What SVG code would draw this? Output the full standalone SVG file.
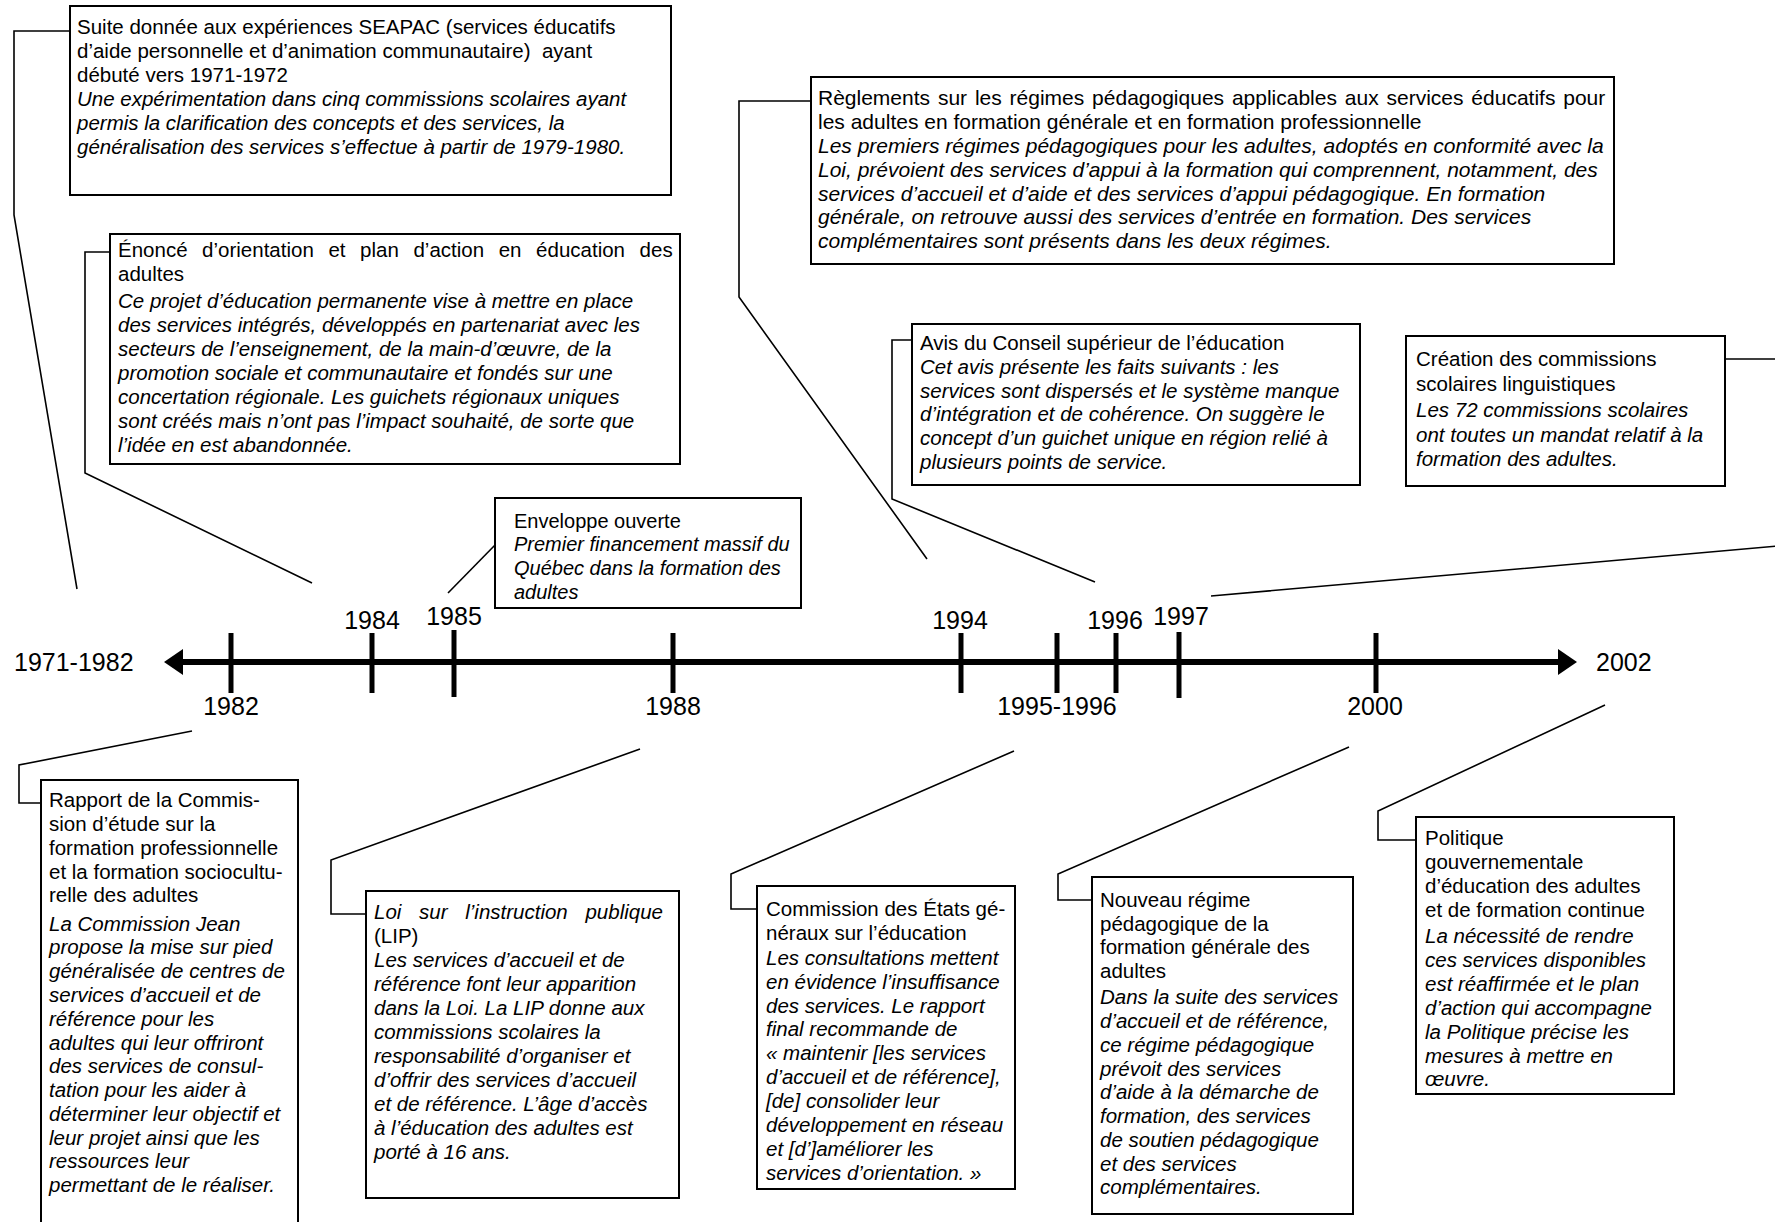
<svg xmlns="http://www.w3.org/2000/svg" width="1775" height="1222" viewBox="0 0 1775 1222">
<style>
.bg{fill:#fff}
.box{fill:#fff;stroke:#000;stroke-width:2}
.t{font-family:"Liberation Sans",Arial,sans-serif;font-size:20.5px;fill:#000}
.t21{font-size:21px}
.t20{font-size:20px}
.i{font-style:italic}
.yr{font-family:"Liberation Sans",Arial,sans-serif;font-size:25px;fill:#000}
.conn{fill:none;stroke:#000;stroke-width:1.6}
.tick{stroke:#000;stroke-width:5}
.axis{stroke:#000;stroke-width:6}
</style>
<rect class="bg" x="0" y="0" width="1775" height="1222"/>

<g id="connectors">
  <path class="conn" d="M70,31 H14 V215 L77,589"/>
  <path class="conn" d="M110,252 H85 V473 L312,583"/>
  <path class="conn" d="M811,101 H739 V297 L927,559"/>
  <path class="conn" d="M912,340 H892 V499 L1095,582"/>
  <path class="conn" d="M1725,359 H1790 V545 L1211,596"/>
  <path class="conn" d="M448,593 L497,543"/>
  <path class="conn" d="M41,803 H19 V765 L192,731"/>
  <path class="conn" d="M366,914 H331 V860 L640,749"/>
  <path class="conn" d="M757,909 H731 V874 L1014,751"/>
  <path class="conn" d="M1092,900 H1058 V874 L1349,747"/>
  <path class="conn" d="M1416,840 H1378 V811 L1605,705"/>
</g>

<g id="timeline">
  <line class="axis" x1="180" y1="662" x2="1562" y2="662"/>
  <polygon points="164,662 183,649 183,675" fill="#000"/>
  <polygon points="1577,662 1558,649 1558,675" fill="#000"/>
  <line class="tick" x1="231" y1="633" x2="231" y2="693"/>
  <line class="tick" x1="372" y1="633" x2="372" y2="693"/>
  <line class="tick" x1="454" y1="630" x2="454" y2="697"/>
  <line class="tick" x1="673" y1="633" x2="673" y2="693"/>
  <line class="tick" x1="961" y1="633" x2="961" y2="693"/>
  <line class="tick" x1="1057" y1="633" x2="1057" y2="693"/>
  <line class="tick" x1="1116" y1="633" x2="1116" y2="693"/>
  <line class="tick" x1="1179" y1="632" x2="1179" y2="698"/>
  <line class="tick" x1="1376" y1="633" x2="1376" y2="693"/>
  <text class="yr" x="14" y="671">1971-1982</text>
  <text class="yr" x="1596" y="671">2002</text>
  <text class="yr" x="231" y="715" text-anchor="middle">1982</text>
  <text class="yr" x="372" y="629" text-anchor="middle">1984</text>
  <text class="yr" x="454" y="625" text-anchor="middle">1985</text>
  <text class="yr" x="673" y="715" text-anchor="middle">1988</text>
  <text class="yr" x="960" y="629" text-anchor="middle">1994</text>
  <text class="yr" x="1057" y="715" text-anchor="middle">1995-1996</text>
  <text class="yr" x="1115" y="629" text-anchor="middle">1996</text>
  <text class="yr" x="1181" y="625" text-anchor="middle">1997</text>
  <text class="yr" x="1375" y="715" text-anchor="middle">2000</text>
</g>

<g id="node-seapac">
  <rect class="box" x="70" y="6" width="601" height="189"/>
  <text class="t">
    <tspan x="77" y="34">Suite donnée aux expériences SEAPAC (services éducatifs</tspan>
    <tspan x="77" y="58">d’aide personnelle et d’animation communautaire)&#160; ayant</tspan>
    <tspan x="77" y="82">débuté vers 1971-1972</tspan>
    <tspan class="i" x="77" y="106">Une expérimentation dans cinq commissions scolaires ayant</tspan>
    <tspan class="i" x="77" y="130">permis la clarification des concepts et des services, la</tspan>
    <tspan class="i" x="77" y="154">généralisation des services s’effectue à partir de 1979-1980.</tspan>
  </text>
</g>

<g id="node-enonce">
  <rect class="box" x="110" y="234" width="570" height="230"/>
  <text class="t">
    <tspan x="118" y="257" style="word-spacing:8.9px">Énoncé d’orientation et plan d’action en éducation des</tspan>
    <tspan x="118" y="281">adultes</tspan>
    <tspan class="i" x="118" y="308">Ce projet d’éducation permanente vise à mettre en place</tspan>
    <tspan class="i" x="118" y="332">des services intégrés, développés en partenariat avec les</tspan>
    <tspan class="i" x="118" y="356">secteurs de l’enseignement, de la main-d’œuvre, de la</tspan>
    <tspan class="i" x="118" y="380">promotion sociale et communautaire et fondés sur une</tspan>
    <tspan class="i" x="118" y="404">concertation régionale. Les guichets régionaux uniques</tspan>
    <tspan class="i" x="118" y="428">sont créés mais n’ont pas l’impact souhaité, de sorte que</tspan>
    <tspan class="i" x="118" y="452">l’idée en est abandonnée.</tspan>
  </text>
</g>

<g id="node-reglements">
  <rect class="box" x="811" y="77" width="803" height="187"/>
  <text class="t t21">
    <tspan x="818" y="105" style="word-spacing:2px">Règlements sur les régimes pédagogiques applicables aux services éducatifs pour</tspan>
    <tspan x="818" y="129">les adultes en formation générale et en formation professionnelle</tspan>
    <tspan class="i" x="818" y="153">Les premiers régimes pédagogiques pour les adultes, adoptés en conformité avec la</tspan>
    <tspan class="i" x="818" y="177">Loi, prévoient des services d’appui à la formation qui comprennent, notamment, des</tspan>
    <tspan class="i" x="818" y="201">services d’accueil et d’aide et des services d’appui pédagogique. En formation</tspan>
    <tspan class="i" x="818" y="224">générale, on retrouve aussi des services d’entrée en formation. Des services</tspan>
    <tspan class="i" x="818" y="248">complémentaires sont présents dans les deux régimes.</tspan>
  </text>
</g>

<g id="node-avis">
  <rect class="box" x="912" y="324" width="448" height="161"/>
  <text class="t">
    <tspan x="920" y="350">Avis du Conseil supérieur de l’éducation</tspan>
    <tspan class="i" x="920" y="374">Cet avis présente les faits suivants : les</tspan>
    <tspan class="i" x="920" y="398">services sont dispersés et le système manque</tspan>
    <tspan class="i" x="920" y="421">d’intégration et de cohérence. On suggère le</tspan>
    <tspan class="i" x="920" y="445">concept d’un guichet unique en région relié à</tspan>
    <tspan class="i" x="920" y="469">plusieurs points de service.</tspan>
  </text>
</g>

<g id="node-creation">
  <rect class="box" x="1406" y="336" width="319" height="150"/>
  <text class="t">
    <tspan x="1416" y="366">Création des commissions</tspan>
    <tspan x="1416" y="391">scolaires linguistiques</tspan>
    <tspan class="i" x="1416" y="417">Les 72 commissions scolaires</tspan>
    <tspan class="i" x="1416" y="442">ont toutes un mandat relatif à la</tspan>
    <tspan class="i" x="1416" y="466">formation des adultes.</tspan>
  </text>
</g>

<g id="node-enveloppe">
  <rect class="box" x="495" y="498" width="306" height="110"/>
  <text class="t t20">
    <tspan x="514" y="528">Enveloppe ouverte</tspan>
    <tspan class="i" x="514" y="551">Premier financement massif du</tspan>
    <tspan class="i" x="514" y="575">Québec dans la formation des</tspan>
    <tspan class="i" x="514" y="599">adultes</tspan>
  </text>
</g>

<g id="node-rapport">
  <rect class="box" x="41" y="780" width="257" height="460"/>
  <text class="t">
    <tspan x="49" y="807">Rapport de la Commis-</tspan>
    <tspan x="49" y="831">sion d’étude sur la</tspan>
    <tspan x="49" y="855">formation professionnelle</tspan>
    <tspan x="49" y="879">et la formation sociocultu-</tspan>
    <tspan x="49" y="902">relle des adultes</tspan>
    <tspan class="i" x="49" y="931">La Commission Jean</tspan>
    <tspan class="i" x="49" y="954">propose la mise sur pied</tspan>
    <tspan class="i" x="49" y="978">généralisée de centres de</tspan>
    <tspan class="i" x="49" y="1002">services d’accueil et de</tspan>
    <tspan class="i" x="49" y="1026">référence pour les</tspan>
    <tspan class="i" x="49" y="1050">adultes qui leur offriront</tspan>
    <tspan class="i" x="49" y="1073">des services de consul-</tspan>
    <tspan class="i" x="49" y="1097">tation pour les aider à</tspan>
    <tspan class="i" x="49" y="1121">déterminer leur objectif et</tspan>
    <tspan class="i" x="49" y="1145">leur projet ainsi que les</tspan>
    <tspan class="i" x="49" y="1168">ressources leur</tspan>
    <tspan class="i" x="49" y="1192">permettant de le réaliser.</tspan>
  </text>
</g>

<g id="node-loi">
  <rect class="box" x="366" y="891" width="313" height="307"/>
  <text class="t">
    <tspan class="i" x="374" y="919" style="word-spacing:12px">Loi sur l’instruction publique</tspan>
    <tspan x="374" y="943">(LIP)</tspan>
    <tspan class="i" x="374" y="967">Les services d’accueil et de</tspan>
    <tspan class="i" x="374" y="991">référence font leur apparition</tspan>
    <tspan class="i" x="374" y="1015">dans la Loi. La LIP donne aux</tspan>
    <tspan class="i" x="374" y="1039">commissions scolaires la</tspan>
    <tspan class="i" x="374" y="1063">responsabilité d’organiser et</tspan>
    <tspan class="i" x="374" y="1087">d’offrir des services d’accueil</tspan>
    <tspan class="i" x="374" y="1111">et de référence. L’âge d’accès</tspan>
    <tspan class="i" x="374" y="1135">à l’éducation des adultes est</tspan>
    <tspan class="i" x="374" y="1159">porté à 16 ans.</tspan>
  </text>
</g>

<g id="node-etats-generaux">
  <rect class="box" x="757" y="886" width="258" height="303"/>
  <text class="t">
    <tspan x="766" y="916">Commission des États gé-</tspan>
    <tspan x="766" y="940">néraux sur l’éducation</tspan>
    <tspan class="i" x="766" y="965">Les consultations mettent</tspan>
    <tspan class="i" x="766" y="989">en évidence l’insuffisance</tspan>
    <tspan class="i" x="766" y="1013">des services. Le rapport</tspan>
    <tspan class="i" x="766" y="1036">final recommande de</tspan>
    <tspan class="i" x="766" y="1060">« maintenir [les services</tspan>
    <tspan class="i" x="766" y="1084">d’accueil et de référence],</tspan>
    <tspan class="i" x="766" y="1108">[de] consolider leur</tspan>
    <tspan class="i" x="766" y="1132">développement en réseau</tspan>
    <tspan class="i" x="766" y="1156">et [d’]améliorer les</tspan>
    <tspan class="i" x="766" y="1180">services d’orientation. »</tspan>
  </text>
</g>

<g id="node-nouveau-regime">
  <rect class="box" x="1092" y="877" width="261" height="337"/>
  <text class="t">
    <tspan x="1100" y="907">Nouveau régime</tspan>
    <tspan x="1100" y="931">pédagogique de la</tspan>
    <tspan x="1100" y="954">formation générale des</tspan>
    <tspan x="1100" y="978">adultes</tspan>
    <tspan class="i" x="1100" y="1004">Dans la suite des services</tspan>
    <tspan class="i" x="1100" y="1028">d’accueil et de référence,</tspan>
    <tspan class="i" x="1100" y="1052">ce régime pédagogique</tspan>
    <tspan class="i" x="1100" y="1076">prévoit des services</tspan>
    <tspan class="i" x="1100" y="1099">d’aide à la démarche de</tspan>
    <tspan class="i" x="1100" y="1123">formation, des services</tspan>
    <tspan class="i" x="1100" y="1147">de soutien pédagogique</tspan>
    <tspan class="i" x="1100" y="1171">et des services</tspan>
    <tspan class="i" x="1100" y="1194">complémentaires.</tspan>
  </text>
</g>

<g id="node-politique">
  <rect class="box" x="1416" y="817" width="258" height="277"/>
  <text class="t">
    <tspan x="1425" y="845">Politique</tspan>
    <tspan x="1425" y="869">gouvernementale</tspan>
    <tspan x="1425" y="893">d’éducation des adultes</tspan>
    <tspan x="1425" y="917">et de formation continue</tspan>
    <tspan class="i" x="1425" y="943">La nécessité de rendre</tspan>
    <tspan class="i" x="1425" y="967">ces services disponibles</tspan>
    <tspan class="i" x="1425" y="991">est réaffirmée et le plan</tspan>
    <tspan class="i" x="1425" y="1015">d’action qui accompagne</tspan>
    <tspan class="i" x="1425" y="1039">la Politique précise les</tspan>
    <tspan class="i" x="1425" y="1063">mesures à mettre en</tspan>
    <tspan class="i" x="1425" y="1086">œuvre.</tspan>
  </text>
</g>
</svg>
